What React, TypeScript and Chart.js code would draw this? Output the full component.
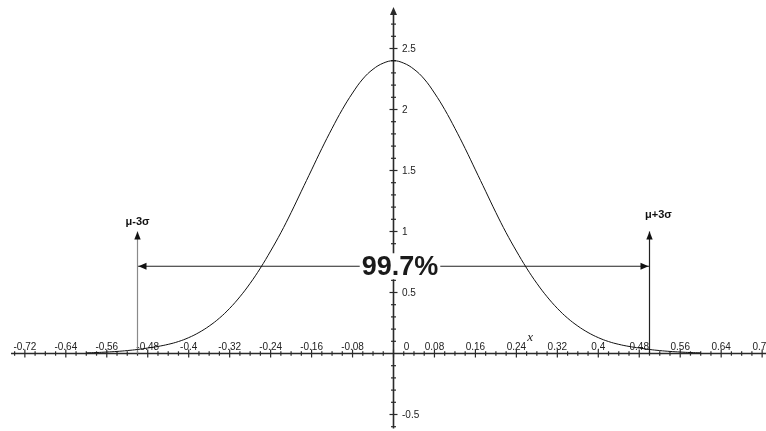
import React, { useEffect, useRef } from "react";
import { Chart, registerables } from "chart.js";

Chart.register(...registerables);

// ---- data ----
const curveX = [
  -0.6, -0.58, -0.56, -0.54, -0.52, -0.5, -0.48, -0.46, -0.44, -0.42, -0.4,
  -0.38, -0.36, -0.34, -0.32, -0.3, -0.28, -0.26, -0.24, -0.22, -0.2,
  -0.18, -0.16, -0.14, -0.12, -0.1, -0.08, -0.06, -0.04, -0.02, 0,
  0.02, 0.04, 0.06, 0.08, 0.1, 0.12, 0.14, 0.16, 0.18, 0.2,
  0.22, 0.24, 0.26, 0.28, 0.3, 0.32, 0.34, 0.36, 0.38, 0.4,
  0.42, 0.44, 0.46, 0.48, 0.5, 0.52, 0.54, 0.56, 0.58, 0.6,
];
const curveY = [
  0.005, 0.008, 0.012, 0.017, 0.024, 0.033, 0.045, 0.058, 0.075, 0.098, 0.13,
  0.172, 0.225, 0.29, 0.37, 0.465, 0.575, 0.7, 0.84, 0.99, 1.155,
  1.33, 1.505, 1.68, 1.845, 2.0, 2.135, 2.25, 2.33, 2.38, 2.4,
  2.38, 2.33, 2.25, 2.135, 2.0, 1.845, 1.68, 1.505, 1.33, 1.155,
  0.99, 0.84, 0.7, 0.575, 0.465, 0.37, 0.29, 0.225, 0.172, 0.13,
  0.098, 0.075, 0.058, 0.045, 0.033, 0.024, 0.017, 0.012, 0.008, 0.005,
];
const xTickValues = [
  -0.72, -0.64, -0.56, -0.48, -0.4, -0.32, -0.24, -0.16, -0.08, 0,
  0.08, 0.16, 0.24, 0.32, 0.4, 0.48, 0.56, 0.64, 0.72,
];
const xTickLabels = [
  "-0.72", "-0.64", "-0.56", "-0.48", "-0.4", "-0.32", "-0.24", "-0.16", "-0.08", "0",
  "0.08", "0.16", "0.24", "0.32", "0.4", "0.48", "0.56", "0.64", "0.72",
];
const yTickValues = [-0.5, 0.5, 1, 1.5, 2, 2.5];
const yTickLabels = ["-0.5", "0.5", "1", "1.5", "2", "2.5"];
const sigmaMarkers = [-0.5, 0.5];
const sigmaLabels = ["μ-3σ", "μ+3σ"];
const markerTop = 1.0;
const spanLevel = 0.715;
const spanLabel = "99.7%";
const axisName = "x";
const axisNamePos = [0.267, 0.13];

const X_MIN = -393.5 / 512;
const X_MAX = (766 - 393.5) / 512;
const Y_MAX = 353.5 / 122;
const Y_MIN = -77.5 / 122;

const SANS = "'Liberation Sans', Arial, Helvetica, sans-serif";

const axesPlugin = {
  id: "customAxes",
  beforeDatasetsDraw(chart: any) {
    const ctx = chart.ctx as CanvasRenderingContext2D;
    const xs = chart.scales.x;
    const ys = chart.scales.y;
    const x0 = xs.getPixelForValue(0);
    const y0 = ys.getPixelForValue(0);
    ctx.save();
    ctx.strokeStyle = "#2a2a2a";
    ctx.fillStyle = "#2a2a2a";
    // x axis
    ctx.lineWidth = 1.6;
    ctx.beginPath();
    ctx.moveTo(xs.getPixelForValue(-0.747), y0);
    ctx.lineTo(chart.width, y0);
    ctx.stroke();
    // y axis
    const yTopTip = 7;
    ctx.beginPath();
    ctx.moveTo(x0, ys.getPixelForValue(-0.614));
    ctx.lineTo(x0, yTopTip + 6);
    ctx.stroke();
    ctx.beginPath();
    ctx.moveTo(x0, yTopTip);
    ctx.lineTo(x0 - 3.5, yTopTip + 8);
    ctx.lineTo(x0 + 3.5, yTopTip + 8);
    ctx.closePath();
    ctx.fill();
    // x minor/major ticks
    ctx.lineWidth = 1.2;
    for (let i = -37; i <= 37; i++) {
      const v = i * 0.02;
      const px = xs.getPixelForValue(v);
      const major = i % 4 === 0;
      const h = major ? 4 : 2.2;
      ctx.beginPath();
      ctx.moveTo(px, y0 - h);
      ctx.lineTo(px, y0 + h);
      ctx.stroke();
    }
    // y ticks
    for (let i = -6; i <= 27; i++) {
      if (i === 0) continue;
      const v = i * 0.1;
      const py = ys.getPixelForValue(v);
      const major = i % 5 === 0;
      const w = major ? 4 : 2.5;
      ctx.beginPath();
      ctx.moveTo(x0 - w, py);
      ctx.lineTo(x0 + w, py);
      ctx.stroke();
    }
    // tick labels
    ctx.fillStyle = "#222";
    ctx.font = `10px ${SANS}`;
    ctx.textAlign = "center";
    ctx.textBaseline = "alphabetic";
    xTickValues.forEach((v, i) => {
      let px = xs.getPixelForValue(v);
      if (v === 0) px += 13;
      ctx.fillText(xTickLabels[i], px, y0 - 3.5);
    });
    ctx.textAlign = "left";
    ctx.textBaseline = "middle";
    yTickValues.forEach((v, i) => {
      ctx.fillText(yTickLabels[i], x0 + 8.5, ys.getPixelForValue(v) + 0.5);
    });
    // axis name
    ctx.font = `italic 13px 'Liberation Serif', 'Times New Roman', serif`;
    ctx.textAlign = "center";
    ctx.fillText(axisName, xs.getPixelForValue(axisNamePos[0]), ys.getPixelForValue(axisNamePos[1]));
    ctx.restore();
  },
  afterDatasetsDraw(chart: any) {
    const ctx = chart.ctx as CanvasRenderingContext2D;
    const xs = chart.scales.x;
    const ys = chart.scales.y;
    ctx.save();
    ctx.fillStyle = "#111";
    // vertical arrow heads + labels
    const topPx = ys.getPixelForValue(markerTop);
    sigmaMarkers.forEach((m, i) => {
      const px = xs.getPixelForValue(m);
      ctx.beginPath();
      ctx.moveTo(px, topPx);
      ctx.lineTo(px - 3.2, topPx + 8);
      ctx.lineTo(px + 3.2, topPx + 8);
      ctx.closePath();
      ctx.fill();
      ctx.font = `bold 11px ${SANS}`;
      ctx.textAlign = "center";
      ctx.textBaseline = "middle";
      const lx = i === 0 ? px : px + 9;
      const ly = i === 0 ? topPx - 10 : topPx - 17;
      ctx.fillText(sigmaLabels[i], lx, ly);
    });
    // horizontal double arrow heads
    const sy = ys.getPixelForValue(spanLevel);
    const lp = xs.getPixelForValue(sigmaMarkers[0]);
    const rp = xs.getPixelForValue(sigmaMarkers[1]);
    ctx.beginPath();
    ctx.moveTo(lp + 1, sy);
    ctx.lineTo(lp + 9, sy - 3.5);
    ctx.lineTo(lp + 9, sy + 3.5);
    ctx.closePath();
    ctx.fill();
    ctx.beginPath();
    ctx.moveTo(rp - 1, sy);
    ctx.lineTo(rp - 9, sy - 3.5);
    ctx.lineTo(rp - 9, sy + 3.5);
    ctx.closePath();
    ctx.fill();
    // central label with white box
    ctx.font = `bold 27px ${SANS}`;
    ctx.textAlign = "center";
    ctx.textBaseline = "middle";
    const cx = xs.getPixelForValue(0) + 6.5;
    const w = ctx.measureText(spanLabel).width;
    ctx.fillStyle = "#fff";
    ctx.fillRect(cx - w / 2 - 2, sy - 13, w + 4, 26);
    ctx.fillStyle = "#1a1a1a";
    ctx.fillText(spanLabel, cx, sy + 1);
    ctx.restore();
  },
};

export default function App() {
  const ref = useRef<HTMLCanvasElement | null>(null);
  useEffect(() => {
    if (!ref.current) return;
    const curve = curveX.map((x, i) => ({ x, y: curveY[i] }));
    const chart = new Chart(ref.current, {
      type: "line",
      data: {
        datasets: [
          {
            data: curve,
            borderColor: "#111",
            borderWidth: 1,
            pointRadius: 0,
            tension: 0.4,
            fill: false,
          },
          {
            data: [
              { x: sigmaMarkers[0], y: 0 },
              { x: sigmaMarkers[0], y: markerTop },
            ],
            borderColor: "#8a8a8a",
            borderWidth: 1.2,
            pointRadius: 0,
          },
          {
            data: [
              { x: sigmaMarkers[1], y: 0 },
              { x: sigmaMarkers[1], y: markerTop },
            ],
            borderColor: "#222",
            borderWidth: 1.2,
            pointRadius: 0,
          },
          {
            data: [
              { x: sigmaMarkers[0], y: spanLevel },
              { x: sigmaMarkers[1], y: spanLevel },
            ],
            borderColor: "#222",
            borderWidth: 1.2,
            pointRadius: 0,
          },
        ],
      },
      options: {
        responsive: false,
        maintainAspectRatio: false,
        animation: false,
        layout: { padding: 0 },
        plugins: { legend: { display: false }, tooltip: { enabled: false } },
        scales: {
          x: { type: "linear", display: false, min: X_MIN, max: X_MAX },
          y: { type: "linear", display: false, min: Y_MIN, max: Y_MAX },
        },
      },
      plugins: [axesPlugin],
    });
    return () => chart.destroy();
  }, []);
  return (
    <div style={{ position: "fixed", left: 0, top: 0, width: 766, height: 431, background: "#fff" }}>
      <canvas ref={ref} width={766} height={431} style={{ display: "block" }} />
    </div>
  );
}
